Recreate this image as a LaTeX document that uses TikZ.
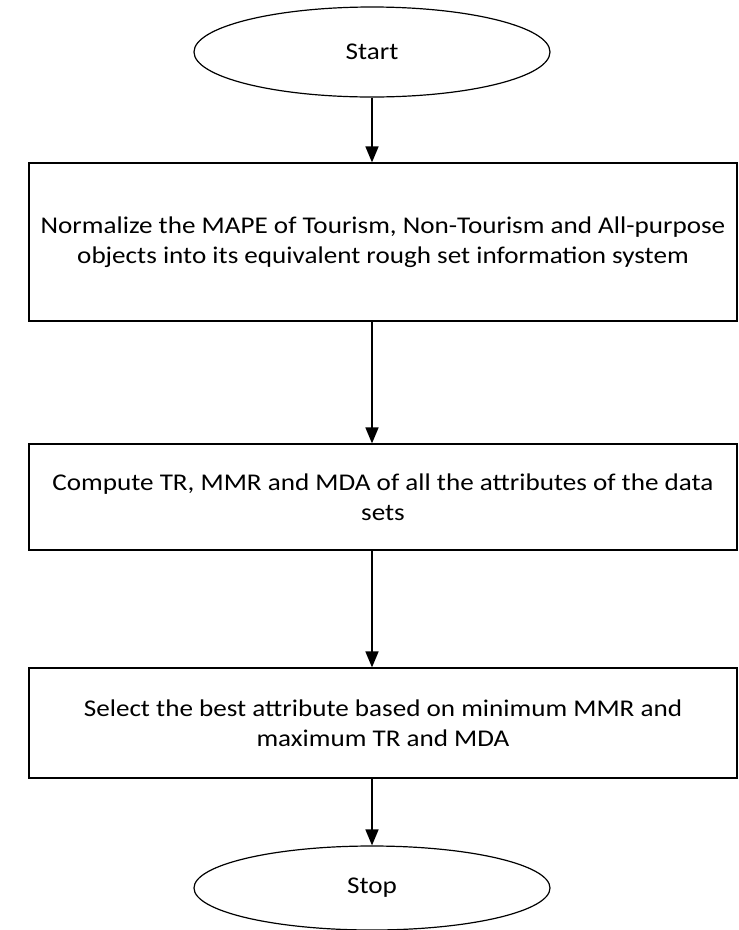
\documentclass[tikz,border=0pt]{standalone}
\usepackage{fontspec}
\setmainfont{Carlito}[FakeStretch=1.13]
\usetikzlibrary{shapes.geometric,arrows.meta}
\tikzset{
  term/.style={ellipse,draw,line width=1.2pt,minimum width=356pt,inner sep=0pt},
  procbox/.style={rectangle,draw,line width=1.2pt,align=center,inner sep=0pt,minimum width=708pt},
  flow/.style={-{Triangle[length=16pt,width=13pt]},line width=1.7pt}
}

\begin{document}
\begin{tikzpicture}[x=1pt,y=-1pt,font=\fontsize{24}{30}\selectfont]

    \def\cx{372} %arrow column

    % frame
    \useasboundingbox (0,0) rectangle (739,930);

    % terminals
    \node[term,minimum height=90pt] (start) at (\cx,52) {Start};
    \node[term,minimum height=84pt] (stop)  at (\cx,888) {Stop};

    % steps
    \node[procbox,minimum height=158pt] (norm) at (383,242)
      {Normalize the MAPE of Tourism, Non-Tourism and All-purpose\\objects into its equivalent rough set information system};
    \node[procbox,minimum height=106pt] (comp) at (383,497)
      {Compute TR, MMR and MDA of all the attributes of the data\\sets};
    \node[procbox,minimum height=110pt] (sel) at (383,723)
      {Select the best attribute based on minimum MMR and\\maximum TR and MDA};

    % arrows
    \draw[flow] (start.south) -- (start.south |- norm.north);
    \draw[flow] (norm.south -| start) -- (comp.north -| start);
    \draw[flow] (comp.south -| start) -- (sel.north -| start);
    \draw[flow] (sel.south -| start) -- (stop.north);

\end{tikzpicture}
\end{document}
